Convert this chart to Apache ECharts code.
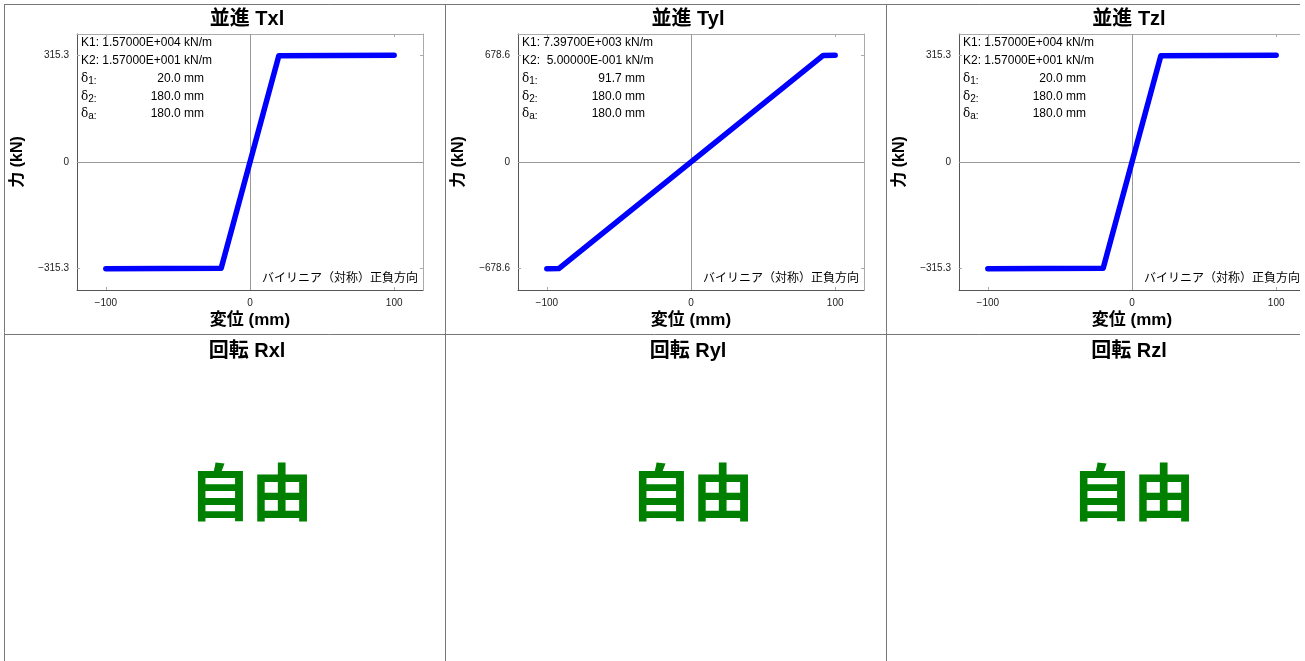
<!DOCTYPE html>
<html>
<head>
<meta charset="utf-8">
<script src="https://cdn.jsdelivr.net/npm/echarts@6/dist/echarts.min.js"></script>
<style>
  html, body { margin: 0; padding: 0; background: #fff; }
  #chart { width: 1305px; height: 661px; }
</style>
</head>
<body>
<div id="chart"></div>
<script>
// Spring properties per translational direction (Tx, Ty, Tz)
const translationTitles = ['並進 Txl', '並進 Tyl', '並進 Tzl'];
const rotationTitles = ['回転 Rxl', '回転 Ryl', '回転 Rzl'];
const rotationStates = ['自由', '自由', '自由'];

const k1Text = ['1.57000E+004', '7.39700E+003', '1.57000E+004'];
const k2Text = ['1.57000E+001', ' 5.00000E-001', '1.57000E+001'];
const delta1 = [20.0, 91.7, 20.0];
const delta2 = [180.0, 180.0, 180.0];
const deltaA = [180.0, 180.0, 180.0];
const modeLabel = 'バイリニア（対称）正負方向';

// Force limits shown on the force axis (kN)
const forceMax = [315.3, 678.6, 315.3];

// Bilinear skeleton curves: displacement (mm) / force (kN)
const dispTx = [-100, -20, 20, 100];
const forceTx = [-315.3, -314.0, 314.0, 315.3];
const dispTy = [-100, -91.7, 91.7, 100];
const forceTy = [-678.6, -678.3, 678.3, 678.6];
const dispTz = [-100, -20, 20, 100];
const forceTz = [-315.3, -314.0, 314.0, 315.3];

const dispTicks = [-100, 0, 100];
const dispRange = [-120, 120];

const curves = [
  [dispTx, forceTx],
  [dispTy, forceTy],
  [dispTz, forceTz]
];

// Layout
const PANEL_W = 441;
const PLOT_L = 77, PLOT_T = 34, PLOT_W = 346, PLOT_H = 256;
const TEXT_FONT = '"Liberation Sans", Arial, sans-serif';
const JP_FONT = '"Noto Sans CJK JP", sans-serif';
const MIX_FONT = '"Liberation Sans", "Noto Sans CJK JP", sans-serif';

const fmtForce = v => v === 0 ? '0' : (v < 0 ? '\u2212' + Math.abs(v).toFixed(1) : v.toFixed(1));
const fmtDisp = v => v < 0 ? '\u2212' + Math.abs(v) : String(v);

const grids = [], xAxes = [], yAxes = [], series = [], graphics = [];

curves.forEach(([xs, ys], i) => {
  const ox = PANEL_W * i;
  const fm = forceMax[i];
  const yTicks = [-fm, 0, fm];
  grids.push({ left: PLOT_L + ox, top: PLOT_T, width: PLOT_W, height: PLOT_H, containLabel: false });

  // bottom (labelled) and top (mirror) displacement axes
  xAxes.push({
    type: 'value', gridIndex: i, position: 'bottom',
    min: dispRange[0], max: dispRange[1],
    name: '変位 (mm)', nameLocation: 'middle', nameGap: 22,
    nameTextStyle: { fontFamily: MIX_FONT, fontSize: 17, fontWeight: 'bold', color: '#000' },
    axisLine: { show: true, onZero: false, lineStyle: { color: '#555', width: 1 } },
    axisTick: { show: true, inside: true, length: 3, customValues: dispTicks, lineStyle: { color: '#aaa' } },
    axisLabel: { show: true, customValues: dispTicks, formatter: fmtDisp, fontFamily: TEXT_FONT, fontSize: 10, color: '#222', margin: 8 },
    splitLine: { show: false }
  });
  xAxes.push({
    type: 'value', gridIndex: i, position: 'top',
    min: dispRange[0], max: dispRange[1],
    axisLine: { show: true, onZero: false, lineStyle: { color: '#aaa', width: 1 } },
    axisTick: { show: true, inside: true, length: 3, customValues: dispTicks, lineStyle: { color: '#aaa' } },
    axisLabel: { show: false },
    splitLine: { show: false }
  });

  // left (labelled) and right (mirror) force axes
  yAxes.push({
    type: 'value', gridIndex: i, position: 'left',
    min: -1.2 * fm, max: 1.2 * fm,
    name: '力 (kN)', nameLocation: 'middle', nameGap: 51,
    nameTextStyle: { fontFamily: MIX_FONT, fontSize: 16, fontWeight: 'bold', color: '#000' },
    axisLine: { show: true, onZero: false, lineStyle: { color: '#555', width: 1 } },
    axisTick: { show: true, inside: true, length: 3, customValues: yTicks, lineStyle: { color: '#aaa' } },
    axisLabel: { show: true, customValues: yTicks, formatter: fmtForce, fontFamily: TEXT_FONT, fontSize: 10, color: '#222', margin: 8 },
    splitLine: { show: false }
  });
  yAxes.push({
    type: 'value', gridIndex: i, position: 'right',
    min: -1.2 * fm, max: 1.2 * fm,
    axisLine: { show: true, onZero: false, lineStyle: { color: '#aaa', width: 1 } },
    axisTick: { show: true, inside: true, length: 3, customValues: yTicks, lineStyle: { color: '#aaa' } },
    axisLabel: { show: false },
    splitLine: { show: false }
  });

  series.push({
    type: 'line',
    xAxisIndex: 2 * i, yAxisIndex: 2 * i,
    data: xs.map((x, k) => [x, ys[k]]),
    symbol: 'none', silent: true, z: 5,
    lineStyle: { color: '#0000ff', width: 5.5, cap: 'round', join: 'round' },
    markLine: {
      silent: true, symbol: 'none', label: { show: false },
      lineStyle: { color: '#999', width: 1, type: 'solid' },
      data: [{ xAxis: 0 }, { yAxis: 0 }],
      animation: false
    }
  });

  // panel titles
  graphics.push({
    type: 'text', x: 247 + ox, y: 19,
    style: { text: translationTitles[i], fontFamily: MIX_FONT, fontSize: 20, fontWeight: 'bold', fill: '#000', align: 'center', verticalAlign: 'middle' }
  });
  graphics.push({
    type: 'text', x: 247 + ox, y: 351,
    style: { text: rotationTitles[i], fontFamily: MIX_FONT, fontSize: 20, fontWeight: 'bold', fill: '#000', align: 'center', verticalAlign: 'middle' }
  });
  graphics.push({
    type: 'text', x: 251 + ox, y: 492,
    style: { text: rotationStates[i], fontFamily: JP_FONT, fontSize: 62, fontWeight: 'bold', fill: '#008000', align: 'center', verticalAlign: 'middle' }
  });

  // spring parameters
  const pStyle = { fontFamily: TEXT_FONT, fontSize: 12, fill: '#000', verticalAlign: 'middle' };
  const rowsY = [43, 61, 79, 97, 114];
  graphics.push({ type: 'text', x: 81 + ox, y: rowsY[0], z: 10, style: Object.assign({ text: 'K1: ' + k1Text[i] + ' kN/m' }, pStyle) });
  graphics.push({ type: 'text', x: 81 + ox, y: rowsY[1], z: 10, style: Object.assign({ text: 'K2: ' + k2Text[i] + ' kN/m' }, pStyle) });
  const deltas = [['1', delta1[i]], ['2', delta2[i]], ['a', deltaA[i]]];
  deltas.forEach(([sub, v], r) => {
    graphics.push({
      type: 'text', x: 81 + ox, y: rowsY[r + 2], z: 10,
      style: {
        text: '{d|δ}{s|' + sub + ':}', verticalAlign: 'middle',
        rich: {
          d: { fontFamily: '"DejaVu Serif", serif', fontSize: 12, fill: '#000' },
          s: { fontFamily: TEXT_FONT, fontSize: 10, fill: '#000', padding: [4, 0, 0, 0] }
        }
      }
    });
    graphics.push({
      type: 'text', x: 204 + ox, y: rowsY[r + 2], z: 10,
      style: Object.assign({ text: v.toFixed(1) + ' mm', align: 'right' }, pStyle)
    });
  });

  // hysteresis model label
  graphics.push({
    type: 'text', x: 418 + ox, y: 277, z: 10,
    style: { text: modeLabel, fontFamily: JP_FONT, fontSize: 12, fill: '#000', align: 'right', verticalAlign: 'middle' }
  });
});

// panel frame lines
const frame = { stroke: '#777', lineWidth: 1 };
[[4.5, 4, 4.5, 661], [445.5, 4, 445.5, 661], [886.5, 4, 886.5, 661], [4, 4.5, 1305, 4.5], [4, 334.5, 1305, 334.5]]
  .forEach(([x1, y1, x2, y2]) => graphics.push({ type: 'line', z: 1, shape: { x1, y1, x2, y2 }, style: frame }));
// right edge of the sheet
graphics.push({ type: 'rect', z: 100, shape: { x: 1300, y: 0, width: 5, height: 661 }, style: { fill: '#fff' } });

const chart = echarts.init(document.getElementById('chart'), null, { renderer: 'canvas' });
chart.setOption({
  animation: false,
  backgroundColor: '#fff',
  grid: grids,
  xAxis: xAxes,
  yAxis: yAxes,
  series: series,
  graphic: graphics
});
</script>
</body>
</html>
